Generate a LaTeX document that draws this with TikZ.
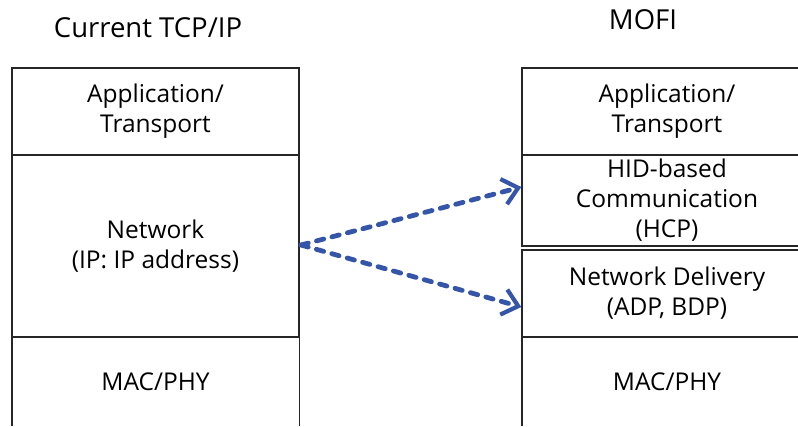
\documentclass[tikz,border=0pt]{standalone}
\usepackage{fontspec}
\setmainfont{Open Sans}
\usetikzlibrary{arrows.meta}
\definecolor{arrowblue}{HTML}{3556A8}
\begin{document}
\begin{tikzpicture}[x=1pt,y=-1pt,
  layer/.style={draw=black!85, line width=1.4pt, inner sep=0pt, align=center,
    font=\fontsize{24.5}{30}\selectfont},
  openlayer/.style={inner sep=0pt, align=center, font=\fontsize{24.5}{30}\selectfont},
  title/.style={font=\fontsize{27.5}{30}\selectfont, inner sep=0pt},
  maparrow/.style={arrowblue, line width=4.8pt, line cap=round,
    dash pattern=on 7.5pt off 8.5pt,
    -{Straight Barb[length=15pt,width=26pt,line width=4.2pt]}}]
  \useasboundingbox (0,0) rectangle (798,426);

  % titles
  \node[title] (tl) at (148,28) {Current TCP/IP};
  \node[title] (tr) at (643,20) {MOFI};

  % current TCP/IP stack
  \node[layer, minimum width=287pt, minimum height=87pt] (lapp) at (155.5,111.5) {Application/\\Transport};
  \node[layer, minimum width=287pt, minimum height=182pt] (lnet) at (155.5,246) {Network\\(IP: IP address)};
  \node[openlayer, minimum width=287pt, minimum height=89pt] (lmac) at (155.5,381.5) {MAC/PHY};
  \draw[black!85, line width=1.4pt] (lmac.south west) -- (lmac.north west) -- (lmac.north east) -- (lmac.south east);

  % MOFI stack (runs past the right edge)
  \node[layer, minimum width=290pt, minimum height=87pt] (rapp) at (667,111.5) {Application/\\Transport};
  \node[layer, minimum width=290pt, minimum height=91pt] (rhid) at (667,200.5) {HID-based\\Communication\\(HCP)};
  \node[layer, minimum width=290pt, minimum height=87pt] (rnd) at (667,293.5) {Network Delivery\\(ADP, BDP)};
  \node[openlayer, minimum width=290pt, minimum height=89pt] (rmac) at (667,381.5) {MAC/PHY};
  \draw[black!85, line width=1.4pt] (rmac.south west) -- (rmac.north west) -- (rmac.north east);

  % mapping arrows
  \coordinate (src) at (301,245);
  \draw[maparrow] (src) -- (rhid.west |- 0,187);
  \draw[maparrow] (src) -- (rnd.west |- 0,307);
\end{tikzpicture}
\end{document}
